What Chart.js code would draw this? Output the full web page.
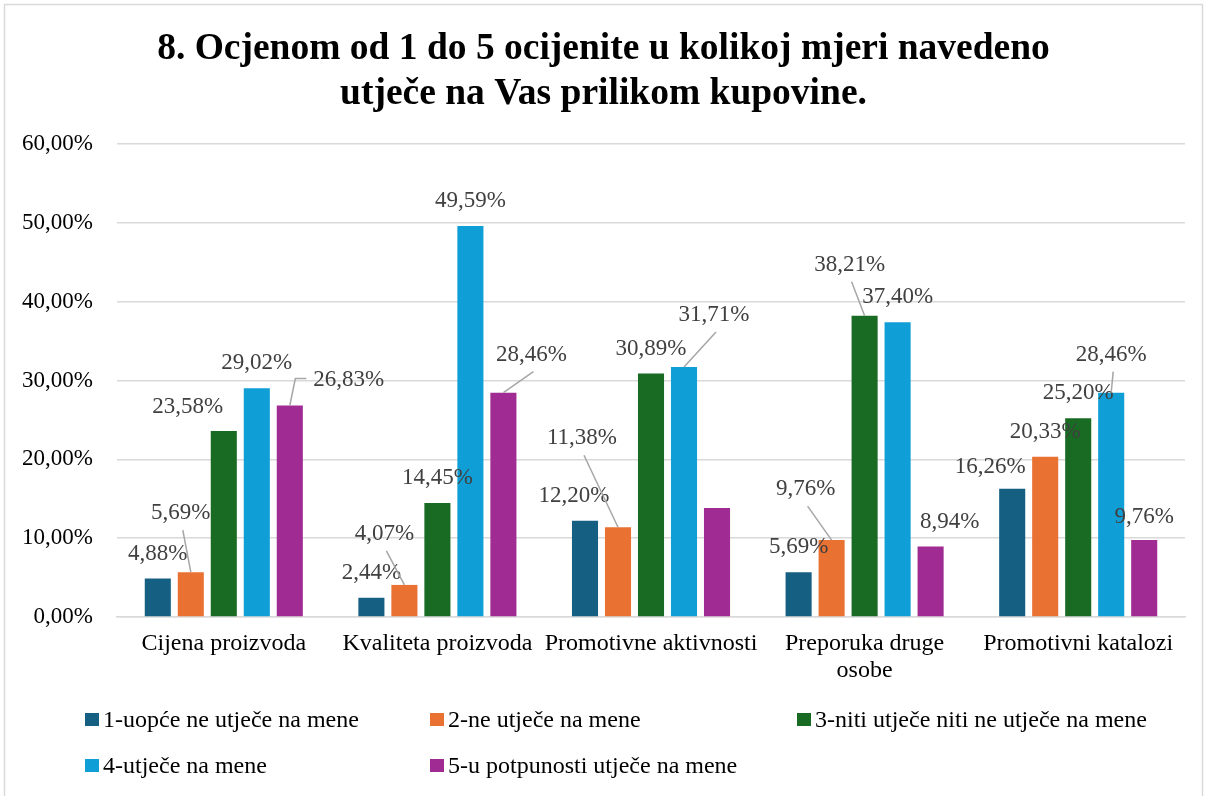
<!DOCTYPE html>
<html>
<head>
<meta charset="utf-8">
<script src="https://cdn.jsdelivr.net/npm/chart.js@4.4.1/dist/chart.umd.min.js"></script>
<style>
html, body { margin: 0; padding: 0; background: #fff; }
#wrap { width: 1207px; height: 796px; }
</style>
</head>
<body>
<div id="wrap"><canvas id="chart"></canvas></div>
<script>
// Podaci s grafa
const categories = ['Cijena proizvoda', 'Kvaliteta proizvoda', 'Promotivne aktivnosti', ['Preporuka druge', 'osobe'], 'Promotivni katalozi'];
const seriesNames = ['1-uopće ne utječe na mene', '2-ne utječe na mene', '3-niti utječe niti ne utječe na mene', '4-utječe na mene', '5-u potpunosti utječe na mene'];
const ocjena1 = [4.88, 2.44, 12.20, 5.69, 16.26];
const ocjena2 = [5.69, 4.07, 11.38, 9.76, 20.33];
const ocjena3 = [23.58, 14.45, 30.89, 38.21, 25.20];
const ocjena4 = [29.02, 49.59, 31.71, 37.40, 28.46];
const ocjena5 = [26.83, 28.46, 13.82, 8.94, 9.76];
const yTicks = [0, 10, 20, 30, 40, 50, 60];

const colors = ['#156082', '#E97132', '#196B24', '#0F9ED5', '#A02B93'];
const fontFamily = '"Liberation Serif", "Times New Roman", serif';

// Pomak oznake od vrha stupca [dx, dy, linija] (0 bez linije, 1 ravna, 2 s lomom), null = bez oznake
const labelPos = [
    [[0, -25], [0, -25], [-11, -25], [0, -25], [-22, -22]],
    [[-10, -59, 1], [-20, -51, 1], [-36, -89, 1], [-26, -51, 1], [0, -25]],
    [[-36, -24], [0, -25], [0, -25], [-15, -51, 1], [0, -25]],
    [[0, -25], [0, -25], [30, -52, 1], [0, -25], [0, -38, 1]],
    [[59, -26, 2], [28, -38, 1], null, [19, -25], [0, -23]]
];

const legendCols = [85, 430, 797];
const legendRows = [727, 773];

function formatPct(v) {
    return v.toFixed(2).replace('.', ',') + '%';
}

// Okvir i bijela pozadina
const framePlugin = {
    id: 'okvir',
    beforeDraw(chart) {
        const ctx = chart.ctx;
        ctx.save();
        ctx.fillStyle = '#fff';
        ctx.fillRect(0, 0, chart.width, chart.height);
        ctx.strokeStyle = '#d9d9d9';
        ctx.lineWidth = 1.5;
        ctx.strokeRect(4.5, 4.5, chart.width - 9, chart.height + 10);
        ctx.restore();
    }
};

// Oznake vrijednosti s linijama
const labelPlugin = {
    id: 'oznake',
    afterDatasetsDraw(chart) {
        const ctx = chart.ctx;
        ctx.save();
        ctx.font = '23px ' + fontFamily;
        ctx.textAlign = 'center';
        ctx.textBaseline = 'middle';
        chart.data.datasets.forEach((ds, i) => {
            chart.getDatasetMeta(i).data.forEach((bar, j) => {
                const pos = labelPos[i][j];
                if (!pos) return;
                const lx = bar.x + pos[0];
                const ly = bar.y + pos[1];
                const text = formatPct(ds.data[j]);
                if (pos[2]) {
                    ctx.strokeStyle = '#a6a6a6';
                    ctx.lineWidth = 1.5;
                    ctx.beginPath();
                    if (pos[2] === 1) {
                        ctx.moveTo(lx + 2, ly + 17);
                    } else {
                        const left = lx - ctx.measureText(text).width / 2;
                        ctx.moveTo(left - 7, ly - 1);
                        ctx.lineTo(left - 18, ly - 1);
                    }
                    ctx.lineTo(bar.x, bar.y);
                    ctx.stroke();
                }
                ctx.fillStyle = '#404040';
                ctx.fillText(text, lx, ly);
            });
        });
        ctx.restore();
    }
};

// Legenda u tri stupca
const legendPlugin = {
    id: 'legenda',
    afterDraw(chart) {
        const ctx = chart.ctx;
        ctx.save();
        ctx.font = '24px ' + fontFamily;
        ctx.textBaseline = 'alphabetic';
        ctx.textAlign = 'left';
        chart.data.datasets.forEach((ds, i) => {
            const x = legendCols[i % 3];
            const y = legendRows[Math.floor(i / 3)];
            ctx.fillStyle = ds.backgroundColor;
            ctx.fillRect(x, y - 14, 14, 13);
            ctx.fillStyle = '#000';
            ctx.fillText(ds.label, x + 18, y);
        });
        ctx.restore();
    }
};

const allSeries = [ocjena1, ocjena2, ocjena3, ocjena4, ocjena5];

const chart = new Chart(document.getElementById('chart'), {
    type: 'bar',
    data: {
        labels: categories,
        datasets: allSeries.map((d, i) => ({
            label: seriesNames[i],
            data: d,
            backgroundColor: colors[i],
            borderWidth: 0,
            categoryPercentage: 0.7725,
            barPercentage: 0.79
        }))
    },
    options: {
        responsive: true,
        maintainAspectRatio: false,
        animation: false,
        layout: {
            padding: { left: 22, right: 22, top: 0, bottom: 119 }
        },
        plugins: {
            legend: { display: false },
            tooltip: { enabled: false },
            title: {
                display: true,
                text: ['8. Ocjenom od 1 do 5 ocijenite u kolikoj mjeri navedeno', 'utječe na Vas prilikom kupovine.'],
                color: '#000',
                font: { family: fontFamily, size: 37.5, weight: 'bold', lineHeight: 1.2 },
                padding: { top: 27, bottom: 27 }
            }
        },
        scales: {
            x: {
                grid: { display: false, drawTicks: false },
                border: { display: true, color: '#d9d9d9', width: 1.5 },
                ticks: {
                    color: '#000',
                    padding: 13,
                    maxRotation: 0,
                    autoSkip: false,
                    font: { family: fontFamily, size: 24, lineHeight: 1.125 }
                },
                afterFit(scale) { scale.height = 60; }
            },
            y: {
                min: 0,
                max: 60,
                afterBuildTicks(scale) {
                    scale.ticks = yTicks.map(v => ({ value: v }));
                },
                grid: { color: '#d9d9d9', lineWidth: 1.5, drawTicks: false },
                border: { display: false },
                ticks: {
                    color: '#000',
                    padding: 24,
                    font: { family: fontFamily, size: 23 },
                    callback: v => formatPct(v)
                },
                afterFit(scale) { scale.width = 95; }
            }
        }
    },
    plugins: [framePlugin, labelPlugin, legendPlugin]
});
</script>
</body>
</html>
